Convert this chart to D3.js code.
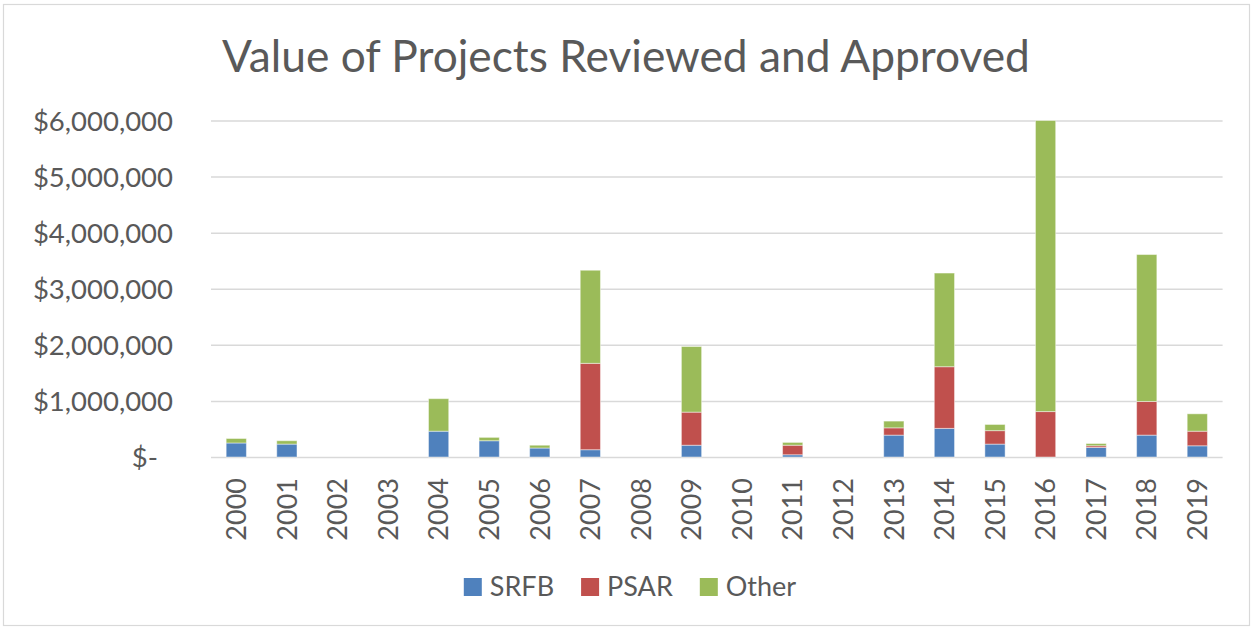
<!DOCTYPE html>
<html><head><meta charset="utf-8">
<script src="https://cdn.jsdelivr.net/npm/d3@7/dist/d3.min.js"></script>
<style>body{margin:0;background:#fff}svg{display:block}</style>
</head><body>
<svg id="c" width="1254" height="630"></svg>
<script>
const years = ["2000","2001","2002","2003","2004","2005","2006","2007","2008","2009","2010","2011","2012","2013","2014","2015","2016","2017","2018","2019"];
const srfb  = [250000,230000,0,0,460000,290000,160000,130000,0,210000,0,40000,0,390000,510000,230000,0,170000,390000,200000];
const psar  = [0,0,0,0,0,0,0,1540000,0,590000,0,170000,0,130000,1100000,240000,810000,30000,600000,260000];
const other = [80000,60000,0,0,580000,60000,50000,1660000,0,1170000,0,50000,0,120000,1670000,110000,5190000,40000,2620000,310000];
const seriesNames = ["SRFB","PSAR","Other"];
const colors = ["#4f81bd","#c0504d","#9bbb59"];
const yTicks = [0,1000000,2000000,3000000,4000000,5000000,6000000];
const title = "Value of Projects Reviewed and Approved";

const svg = d3.select("#c");
const font = "Lato, 'Open Sans', sans-serif";
const textColor = "#595959";

svg.append("rect").attr("x",3.5).attr("y",4.5).attr("width",1246).attr("height",621)
  .attr("fill","#fff").attr("stroke","#d9d9d9").attr("stroke-width",1.2);

const plotL = 211, plotR = 1222.6, plotT = 120.5, plotB = 457;
const x = d3.scaleBand().domain(years).range([plotL,plotR]).paddingInner(0.6).paddingOuter(0.3);
const y = d3.scaleLinear().domain([0,6000000]).range([plotB,plotT]);

// gridlines
const yAxis = d3.axisLeft(y).tickValues(yTicks).tickSize(-(plotR-plotL)).tickPadding(38)
  .tickFormat(d => d===0 ? "$-" : "$" + d3.format(",")(d));
const gy = svg.append("g").attr("transform",`translate(${plotL},0)`).call(yAxis);
gy.select(".domain").remove();
gy.selectAll(".tick line").attr("stroke","#d9d9d9").attr("stroke-width",1.5);
gy.selectAll(".tick text").attr("fill",textColor).style("font-family",font).style("font-size","27.5px")
  .attr("dy","0.35em")
  .attr("dx", d => d===0 ? -15 : 0);

// stacked bars
const table = years.map((yr,i)=>({year:yr, SRFB:srfb[i], PSAR:psar[i], Other:other[i]}));
const stack = d3.stack().keys(seriesNames)(table);
svg.append("g").selectAll("g").data(stack).join("g").attr("fill",(d,i)=>colors[i])
  .selectAll("rect").data(d=>d.filter(p=>p[1]-p[0]>0)).join("rect")
  .attr("x",d=>x(d.data.year)).attr("width",x.bandwidth())
  .attr("y",d=>y(d[1])).attr("height",d=>y(d[0])-y(d[1]))
  .attr("stroke","rgba(255,255,255,0.45)").attr("stroke-width",1);

// x axis labels
const xAxis = d3.axisBottom(x).tickSize(0).tickPadding(0);
const gx = svg.append("g").attr("transform",`translate(0,${plotB})`).call(xAxis);
gx.select(".domain").remove();
gx.selectAll(".tick text").attr("fill",textColor).style("font-family",font).style("font-size","27px")
  .attr("text-anchor","end").attr("transform","rotate(-90)")
  .attr("x",-21).attr("y",0).attr("dy","0.36em");

// title
const t = svg.append("text").attr("x",626).attr("y",72).attr("text-anchor","middle")
  .attr("fill",textColor).style("font-family",font).style("font-weight",400).style("font-size","48px").text(title);
const tw = t.node().getComputedTextLength();
t.style("font-size",(48*808/tw)+"px");

// legend
const lg = svg.append("g");
let lx = 0;
seriesNames.forEach((n,i)=>{
  const g = lg.append("g");
  g.append("rect").attr("x",0).attr("y",578).attr("width",18).attr("height",18).attr("fill",colors[i]);
  const tx = g.append("text").attr("x",26).attr("y",596).attr("fill",textColor)
    .style("font-family",font).style("font-size","27px").text(n);
  const w = 26 + tx.node().getComputedTextLength();
  g.attr("transform",`translate(${lx},0)`);
  lx += w + 27;
});
const total = lx - 27;
lg.attr("transform",`translate(${630 - total/2},0)`);
</script>
</body></html>
